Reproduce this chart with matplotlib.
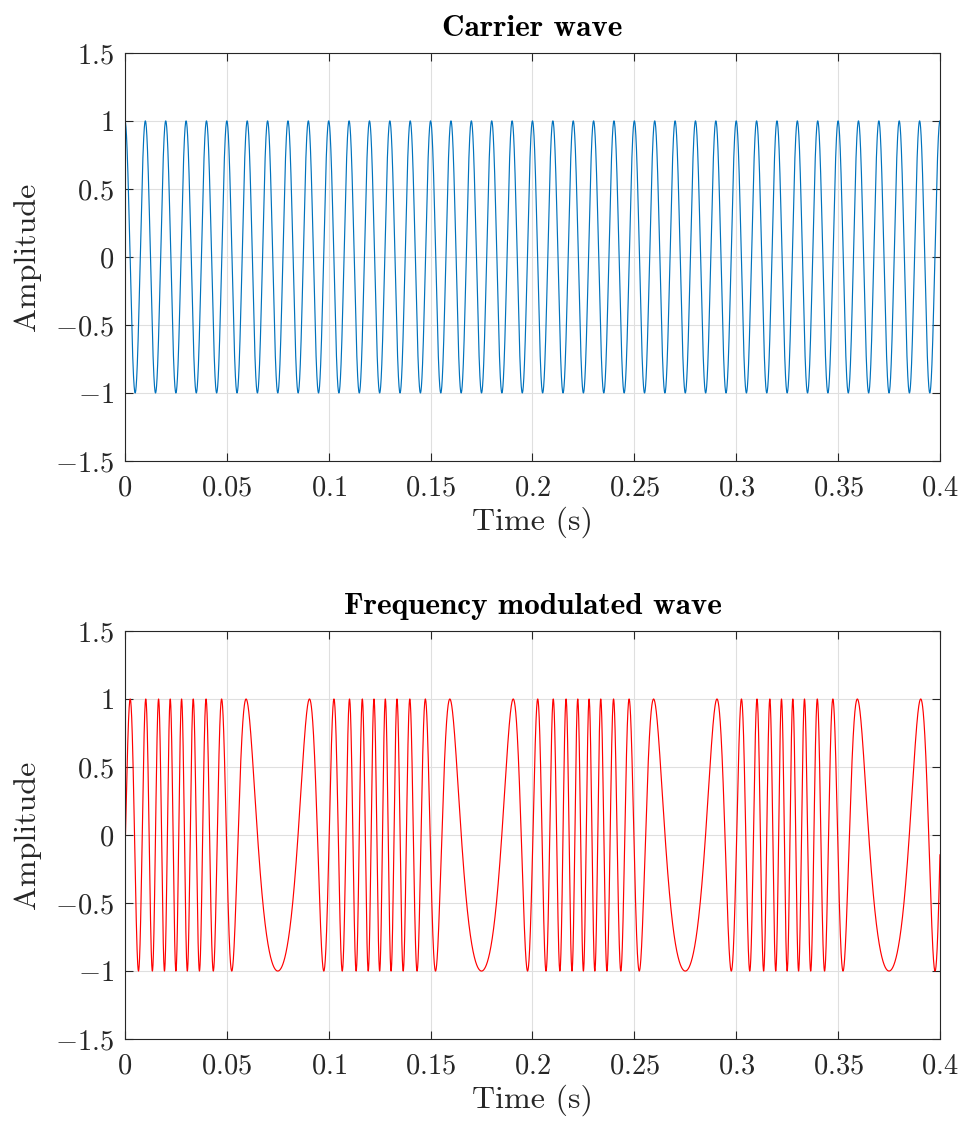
import matplotlib
matplotlib.use("Agg")
import matplotlib.pyplot as plt
import numpy as np

################################################################################
# data                                                  #
################################################################################
# Signal parameters (peak spacing / cycle counts).
carrierFreq = 100.0      # Hz, 40 cycles over 0.4 s
modFreq = 10.0           # Hz, pattern repeats every 0.1 s
freqDeviation = 80.0     # Hz, local freq swings ~20..180 Hz
tStart = 0.0
tStop = 0.4
sampleRate = 20000.0

xTicks = [0, 0.05, 0.1, 0.15, 0.2, 0.25, 0.3, 0.35, 0.4]
xTickLabels = ["0", "0.05", "0.1", "0.15", "0.2", "0.25", "0.3", "0.35", "0.4"]
yTicks = [-1.5, -1, -0.5, 0, 0.5, 1, 1.5]
yTickLabels = ["-1.5", "-1", "-0.5", "0", "0.5", "1", "1.5"]

titles = ["Carrier wave", "Frequency modulated wave"]
xLabel = "Time (s)"
yLabel = "Amplitude"
lineColors = ["#0072BD", "#FF0000"]

################################################################################
# signals                                                                      #
################################################################################
t = np.arange(tStart, tStop + 0.5 / sampleRate, 1.0 / sampleRate)
carrier = np.cos(2 * np.pi * carrierFreq * t)
beta = freqDeviation / modFreq
fmWave = np.cos(2 * np.pi * carrierFreq * t - beta * np.cos(2 * np.pi * modFreq * t))
signalList = [carrier, fmWave]

################################################################################
# plot                                                                         #
################################################################################
plt.rcParams["font.family"] = "cmr10"
plt.rcParams["mathtext.fontset"] = "cm"
plt.rcParams["mathtext.rm"] = "cmr10"
plt.rcParams["axes.formatter.use_mathtext"] = True

boxColor = "#262626"
fig = plt.figure(figsize=(9.62, 11.21), dpi=100)
axRects = [
    [0.1299, 0.5888, 0.8472, 0.364],
    [0.1299, 0.0731, 0.8472, 0.364],
]

for index in range(2):
    ax = fig.add_axes(axRects[index])
    ax.plot(t, signalList[index], color=lineColors[index], linewidth=0.85)
    ax.set_xlim(0, 0.4)
    ax.set_ylim(-1.5, 1.5)
    ax.set_xticks(xTicks)
    ax.set_xticklabels(["$" + s + "$" for s in xTickLabels])
    ax.set_yticks(yTicks)
    ax.set_yticklabels(["$" + s + "$" for s in yTickLabels])
    ax.grid(True, color="#dfdfdf", linewidth=0.8)
    ax.set_axisbelow(True)
    ax.tick_params(
        direction="in", length=5.5, width=0.8, colors=boxColor,
        labelsize=20.5, top=True, right=True,
    )
    ax.tick_params(axis="x", pad=10)
    ax.tick_params(axis="y", pad=8)
    for spine in ax.spines.values():
        spine.set_color(boxColor)
        spine.set_linewidth(0.8)
    ax.set_xlabel(xLabel, fontsize=23, color=boxColor, labelpad=4)
    ax.set_ylabel(yLabel, fontsize=23, color=boxColor, labelpad=10)
    ax.set_title(titles[index], fontsize=22.5, family="cmb10", color="black", pad=12)

fig.savefig("out.png", dpi=100)
